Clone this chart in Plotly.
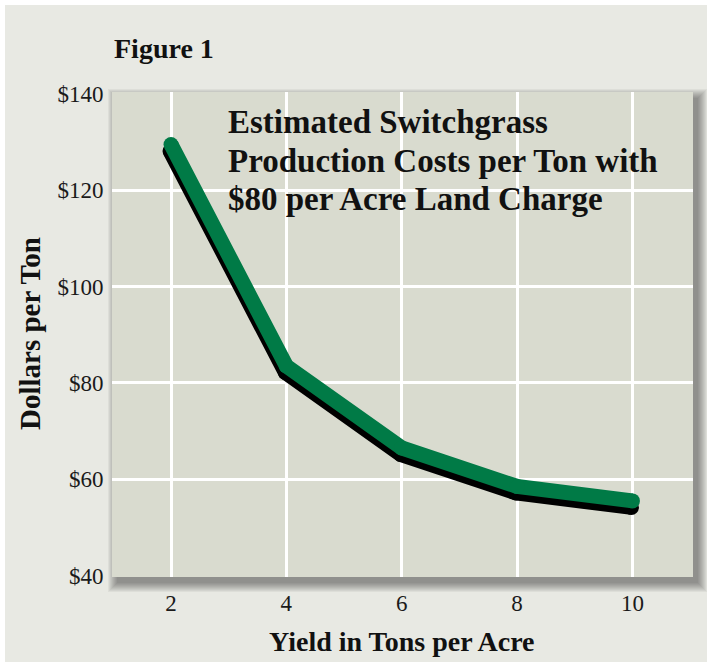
import plotly.graph_objects as go

# ---- data ----
yield_tons = [2, 4, 6, 8, 10]
cost_per_ton = [129.5, 83.5, 66.5, 58.5, 55.5]
x_ticks = [2, 4, 6, 8, 10]
y_ticks = [40, 60, 80, 100, 120, 140]
y_tick_text = ["&#36;40", "&#36;60", "&#36;80", "&#36;100", "&#36;120", "&#36;140"]
y_grid = [60, 80, 100, 120]
title_lines = ["Estimated Switchgrass", "Production Costs per Ton with", "&#36;80 per Acre Land Charge"]

W, H = 709, 662
ML, MR, MT, MB = 112, 16, 92, 85
PW, PH = W - ML - MR, H - MT - MB
XR = [0.977, 11.05]
YR = [39.7, 140.4]

FONT = "Liberation Serif"
GREEN = "#007a46"
PLOT_BG = "#d9dbcf"
PANEL_BG = "#e8e9e3"

# shadow offset of the line, in pixels -> data units
ppx = PW / (XR[1] - XR[0])
ppy = PH / (YR[1] - YR[0])
shadow_x = [v - 1.0 / ppx for v in yield_tons]
shadow_y = [v - 6.5 / ppy for v in cost_per_ton]

fig = go.Figure()
fig.add_trace(go.Scatter(x=shadow_x, y=shadow_y, mode="lines+markers",
                         line=dict(color="black", width=15),
                         marker=dict(color="black", size=15),
                         hoverinfo="skip", showlegend=False))
fig.add_trace(go.Scatter(x=yield_tons, y=cost_per_ton, mode="lines+markers",
                         line=dict(color=GREEN, width=15),
                         marker=dict(color=GREEN, size=15),
                         showlegend=False))
# empty trace on the label axis so the overlay axis exists
fig.add_trace(go.Scatter(x=[None], y=[None], yaxis="y2", mode="lines", showlegend=False, hoverinfo="skip"))


def px_x(p):
    return (p - ML) / PW


def px_y(p):
    return (H - MB - p) / PH


shapes = []
# outer panel
shapes.append(dict(type="rect", xref="paper", yref="paper", layer="below",
                   x0=px_x(5), x1=px_x(707), y0=px_y(H + 2), y1=px_y(5),
                   fillcolor=PANEL_BG, line=dict(width=0)))
# drop shadow of the plot area
for k in range(10):
    shapes.append(dict(type="rect", xref="paper", yref="paper", layer="below",
                       x0=px_x(ML + 5 - k), x1=px_x(ML + PW + 5 + k),
                       y0=px_y(MT + PH + 6 + k), y1=px_y(MT + 6 - k),
                       fillcolor="rgb(40,40,35)", opacity=0.055, line=dict(width=0)))
# plot area
shapes.append(dict(type="rect", xref="paper", yref="paper", layer="below",
                   x0=0, x1=1, y0=0, y1=1, fillcolor=PLOT_BG, line=dict(width=0)))

annotations = [
    dict(text="<b>Figure 1</b>", xref="paper", yref="paper", x=px_x(112), y=px_y(48.5),
         xanchor="left", yanchor="middle", showarrow=False,
         font=dict(family=FONT, size=28, color="#111")),
    dict(text="<b>Yield in Tons per Acre</b>", xref="x", yref="paper", x=6, y=px_y(641),
         xanchor="center", yanchor="middle", showarrow=False,
         font=dict(family=FONT, size=28, color="#111")),
    dict(text="<b>Dollars per Ton</b>", xref="paper", yref="paper", x=px_x(30), y=px_y(334),
         xanchor="center", yanchor="middle", showarrow=False, textangle=-90,
         font=dict(family=FONT, size=29, color="#111")),
]
for line, base in zip(title_lines, [133, 172, 210]):
    annotations.append(dict(text="<b>" + line + "</b>", xref="paper", yref="paper",
                            x=px_x(226), y=px_y(base - 11.1), xanchor="left", yanchor="middle",
                            showarrow=False, font=dict(family=FONT, size=33, color="#111")))

fig.update_layout(
    width=W, height=H,
    margin=dict(l=ML, r=MR, t=MT, b=MB, pad=0),
    paper_bgcolor="white",
    plot_bgcolor="rgba(0,0,0,0)",
    font=dict(family=FONT, color="#222"),
    shapes=shapes,
    annotations=annotations,
    xaxis=dict(range=XR, tickmode="array", tickvals=x_ticks, showgrid=True,
               gridcolor="white", gridwidth=3, zeroline=False, showline=False,
               ticks="outside", ticklen=5, tickcolor="rgba(0,0,0,0)",
               tickfont=dict(family=FONT, size=23, color="#1a1a1a")),
    yaxis=dict(range=YR, tickmode="array", tickvals=y_grid, showticklabels=False,
               showgrid=True, gridcolor="white", gridwidth=3, zeroline=False, showline=False),
    yaxis2=dict(range=YR, overlaying="y", anchor="x", side="left", tickmode="array",
                tickvals=y_ticks, ticktext=y_tick_text, showgrid=False, zeroline=False, showline=False,
                ticks="outside", ticklen=3, tickcolor="rgba(0,0,0,0)",
                tickfont=dict(family=FONT, size=23, color="#1a1a1a")),
)

fig.write_html("out.html")
